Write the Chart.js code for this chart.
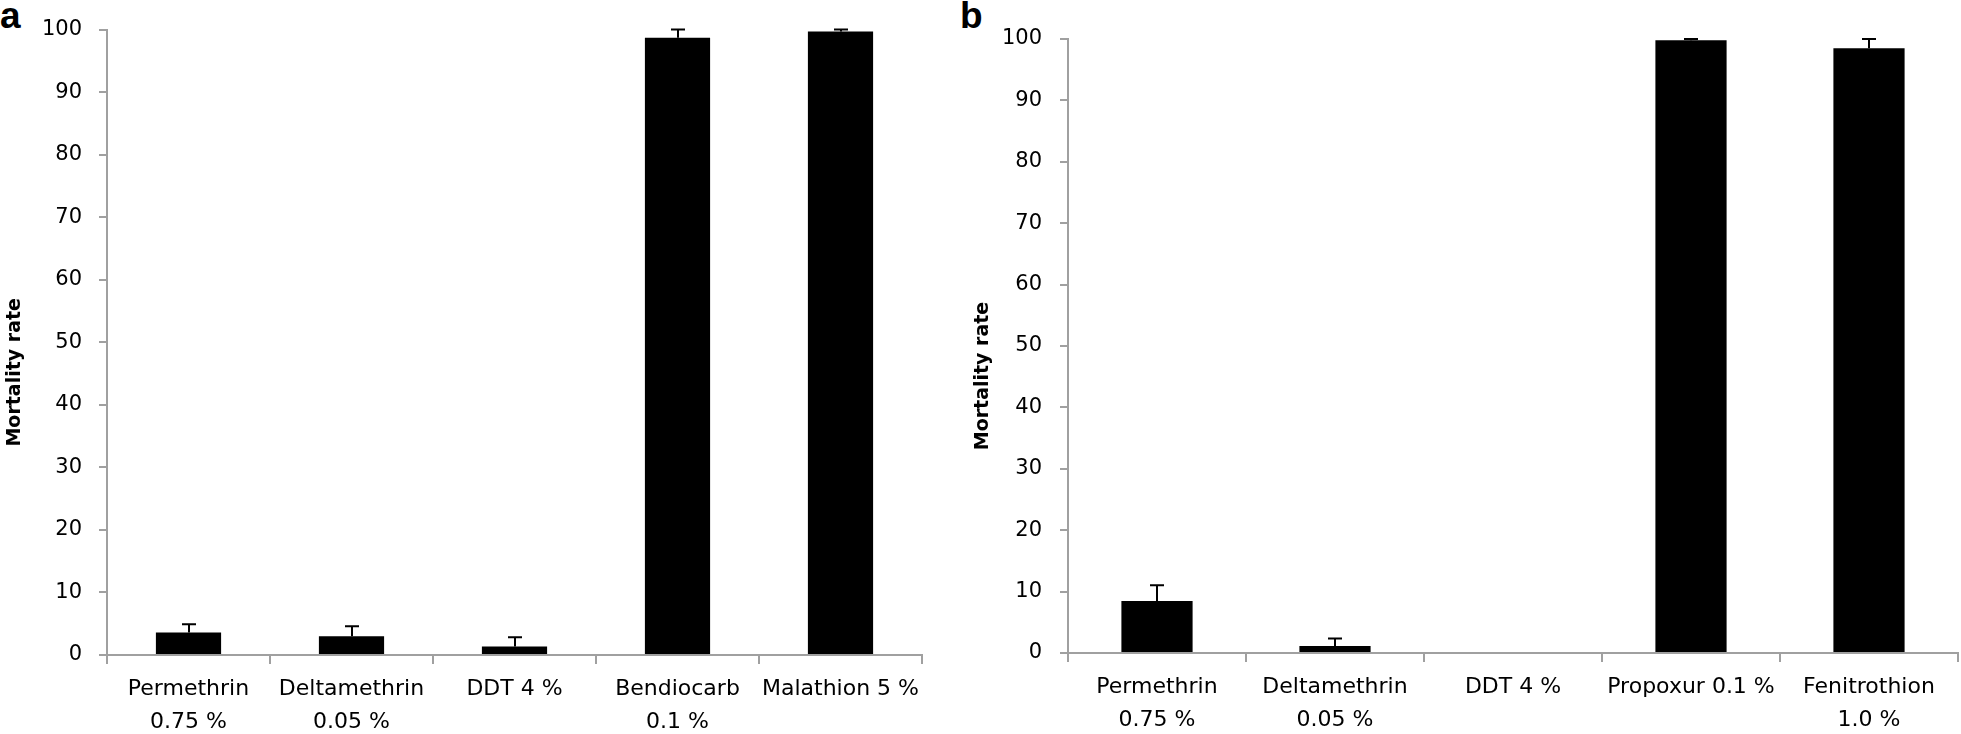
<!DOCTYPE html>
<html>
<head>
<meta charset="utf-8">
<script src="https://cdn.jsdelivr.net/npm/chart.js@4/dist/chart.umd.min.js"></script>
<style>
  html, body { margin: 0; padding: 0; background: #fff; }
  body { width: 1961px; height: 734px; position: relative; overflow: hidden; }
  canvas { position: absolute; top: 0; }
  #cA { left: 0; }
  #cB { left: 960px; }
  .panel { position: absolute; top: -3px; font-family: "Liberation Sans", Arial, sans-serif; font-weight: bold; font-size: 37px; line-height: 37px; color: #000; }
</style>
</head>
<body>
<div class="panel" style="left:0px;">a</div>
<div class="panel" style="left:960px;">b</div>
<canvas id="cA" width="960" height="734"></canvas>
<canvas id="cB" width="1001" height="734"></canvas>
<script>
// ---- data ----
const categoriesA = [['Permethrin', '0.75 %'], ['Deltamethrin', '0.05 %'], 'DDT 4 %', ['Bendiocarb', '0.1 %'], 'Malathion 5 %'];
const mortalityA = [3.6, 3.0, 1.35, 98.7, 99.7];
const errorA = [1.3, 1.6, 1.5, 1.3, 0.3];

const categoriesB = [['Permethrin', '0.75 %'], ['Deltamethrin', '0.05 %'], 'DDT 4 %', 'Propoxur 0.1 %', ['Fenitrothion', '1.0 %']];
const mortalityB = [8.45, 1.15, 0, 99.8, 98.5];
const errorB = [2.6, 1.2, 0, 0.2, 1.5];

const yTicks = [0, 10, 20, 30, 40, 50, 60, 70, 80, 90, 100];
const yTitle = 'Mortality rate';

// ---- plugins ----
const errorBarPlugin = {
  id: 'errorBars',
  afterDatasetsDraw(chart, args, opts) {
    const ctx = chart.ctx;
    const meta = chart.getDatasetMeta(0);
    const y = chart.scales.y;
    const errs = opts.errors || [];
    const vals = chart.data.datasets[0].data;
    ctx.save();
    ctx.strokeStyle = '#000';
    ctx.lineWidth = 2;
    meta.data.forEach((bar, i) => {
      const e = errs[i];
      if (!e) return;
      const x = Math.round(bar.x);
      const yb = y.getPixelForValue(vals[i]);
      const yt = y.getPixelForValue(vals[i] + e);
      ctx.beginPath();
      ctx.moveTo(x, yb);
      ctx.lineTo(x, yt);
      ctx.moveTo(x - 7, yt);
      ctx.lineTo(x + 7, yt);
      ctx.stroke();
    });
    ctx.restore();
  }
};

const yTitlePlugin = {
  id: 'yTitleCustom',
  afterDraw(chart, args, opts) {
    const ctx = chart.ctx;
    const a = chart.chartArea;
    ctx.save();
    ctx.translate(opts.x, (a.top + a.bottom) / 2 + opts.dy);
    ctx.rotate(-Math.PI / 2);
    ctx.font = 'bold 19px "DejaVu Sans", Verdana, sans-serif';
    ctx.fillStyle = '#000';
    ctx.textAlign = 'center';
    ctx.textBaseline = 'middle';
    ctx.fillText(opts.text, 0, 0);
    ctx.restore();
  }
};

function makeChart(id, labels, values, errors, opt) {
  return new Chart(document.getElementById(id), {
    type: 'bar',
    data: {
      labels: labels,
      datasets: [{
        data: values,
        backgroundColor: '#000',
        borderWidth: 0,
        barPercentage: 0.4,
        categoryPercentage: 1.0
      }]
    },
    options: {
      responsive: false,
      animation: false,
      devicePixelRatio: 1,
      layout: { padding: { left: 0, right: opt.padRight, top: opt.padTop, bottom: 0 } },
      plugins: {
        legend: { display: false },
        tooltip: { enabled: false },
        errorBars: { errors: errors },
        yTitleCustom: { text: yTitle, x: opt.titleX, dy: 30 }
      },
      scales: {
        x: {
          offset: true,
          grid: { offset: true, drawOnChartArea: false, drawTicks: true, tickLength: 9, color: '#a0a0a0', lineWidth: 2 },
          border: { color: '#a0a0a0', width: 2 },
          ticks: {
            color: '#000',
            padding: 9,
            maxRotation: 0,
            autoSkip: false,
            font: { family: '"DejaVu Sans", Verdana, sans-serif', size: 22, lineHeight: 1.5 }
          },
          afterFit: (s) => { s.height = opt.xHeight; }
        },
        y: {
          min: 0,
          max: 100,
          afterBuildTicks: (s) => { s.ticks = yTicks.map(v => ({ value: v })); },
          grid: { drawOnChartArea: false, drawTicks: true, tickLength: 8, color: '#a0a0a0', lineWidth: 2 },
          border: { color: '#a0a0a0', width: 2 },
          ticks: {
            color: '#000',
            padding: opt.yPad,
            font: { family: '"DejaVu Sans", Verdana, sans-serif', size: 21 }
          },
          afterFit: (s) => { s.width = opt.yWidth; }
        }
      }
    },
    plugins: [errorBarPlugin, yTitlePlugin]
  });
}

makeChart('cA', categoriesA, mortalityA, errorA, { padRight: 38, padTop: 24, xHeight: 79, yWidth: 107, yPad: 17, titleX: 15 });
makeChart('cB', categoriesB, mortalityB, errorB, { padRight: 3, padTop: 39, xHeight: 81, yWidth: 108, yPad: 18, titleX: 23 });
</script>
</body>
</html>
